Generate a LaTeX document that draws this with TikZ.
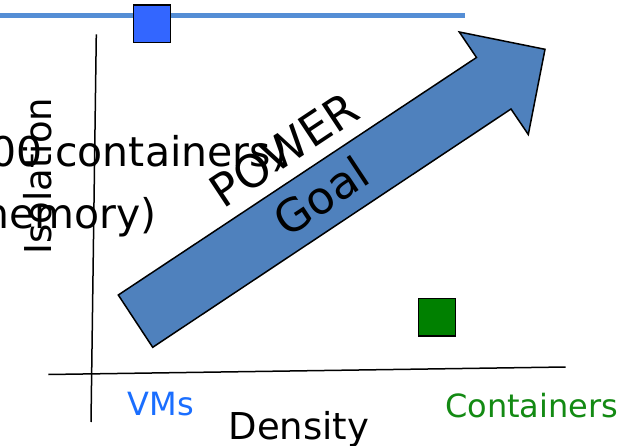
\documentclass[tikz,border=0pt]{standalone}
\usepackage{fontspec}
\setmainfont{DejaVu Sans}
\definecolor{toplinec}{RGB}{85,142,213}
\definecolor{vmsq}{RGB}{51,102,255}
\definecolor{ctsq}{RGB}{0,128,0}
\definecolor{arrowc}{RGB}{79,129,189}
\definecolor{vmtext}{RGB}{26,110,255}
\definecolor{cttext}{RGB}{19,138,19}
\tikzset{
  axis/.style={draw=black, line width=1.5pt},
  marker/.style={draw=black, line width=1.5pt, inner sep=0pt, minimum width=37pt, minimum height=37.5pt},
  bigarrow/.style={draw=black, fill=arrowc, line width=1.5pt, line join=miter},
  lbl/.style={inner sep=0pt, font=\fontsize{32}{38}\selectfont},
  axlbl/.style={inner sep=0pt, font=\fontsize{37}{44}\selectfont},
  bodytxt/.style={inner sep=0pt, font=\fontsize{41}{49}\selectfont},
  arrowtxt/.style={inner sep=0pt, font=\fontsize{45}{54}\selectfont, rotate=33.5},
}
\begin{document}
\begin{tikzpicture}[x=1pt, y=-1pt]
\useasboundingbox (0,0) rectangle (631,446);
\clip (0,0) rectangle (631,446);
% top line
\coordinate (tl0) at (0,15.5);
\coordinate (tl1) at (465,15.5);
\draw[toplinec, line width=5pt] (tl0) -- (tl1);
\node[marker, fill=vmsq] (vmsquare) at (152,24) {};
% axes
\coordinate (ytop) at (96.3,34.3);
\coordinate (ybot) at (91,422);
\coordinate (xl) at (48.3,374.5);
\coordinate (xr) at (565.7,367);
\draw[axis] (ytop) -- (ybot);
\draw[axis] (xl) -- (xr);
% overflowing text lines
\node[bodytxt, anchor=base west] (line1) at (-10,167) {00 containers)};
\node[bodytxt, anchor=base east] (line2) at (157,229) {memory)};
% axis labels
\node[axlbl, rotate=90, anchor=base] (iso) at (51.7,176) {Isolation};
\node[axlbl, anchor=base] (dens) at (299,439) {Density};
\node[lbl, anchor=base west, text=vmtext] (vms) at (127.3,415) {VMs};
\node[lbl, anchor=base west, text=cttext] (cts) at (445,417.3) {Containers};
% green marker
\node[marker, fill=ctsq] (ctsquare) at (436.8,317.2) {};
% big arrow
\draw[bigarrow] (118.3,295) -- (476.5,57.5) -- (459.3,32) -- (545,49.3) -- (528.3,134.5) -- (511,109) -- (152.7,347.3) -- cycle;
\node[arrowtxt] (goal) at (321,196) {Goal};
\node[arrowtxt, anchor=base] (power) at (293,163) {POWER};
\end{tikzpicture}
\end{document}
